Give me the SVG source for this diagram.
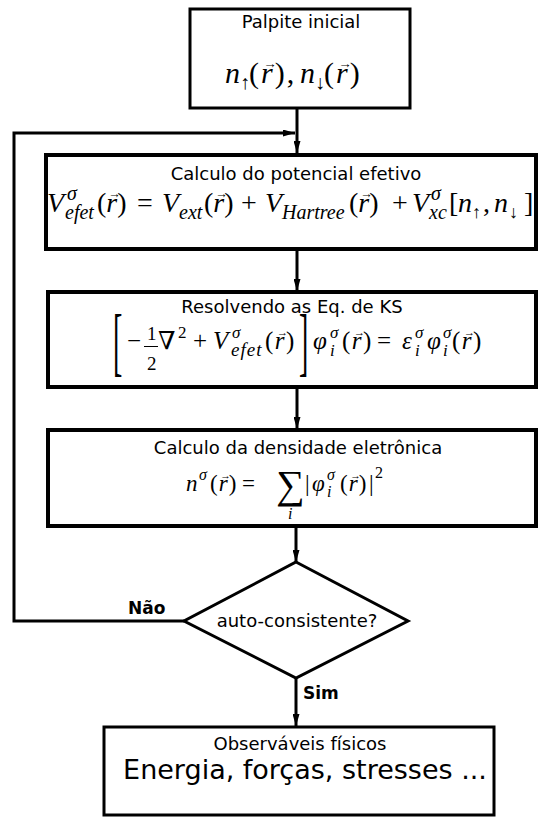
<svg xmlns="http://www.w3.org/2000/svg" width="538" height="825" viewBox="0 0 538 825">
<style>
.box{fill:#fff;stroke:#000}
.t{font-family:"DejaVu Sans",sans-serif;font-size:18px;fill:#000;text-anchor:middle}
.b{font-family:"DejaVu Sans",sans-serif;font-weight:bold;font-size:17px;fill:#000}
.mi{font-family:"Liberation Serif","DejaVu Serif",serif;font-style:italic;fill:#000}
.u{font-style:normal}
.v{font-style:normal;text-anchor:middle}
.c{fill:none;stroke:#000;stroke-width:3}
</style>
<defs>
<marker id="ah" viewBox="0 0 12 7" refX="12" refY="3.5" markerWidth="12" markerHeight="7" markerUnits="userSpaceOnUse" orient="auto">
<path d="M0,0 L12,3.5 L0,7 z" fill="#000"/>
</marker>
</defs>

<g id="connectors">
<line class="c" x1="297" y1="108" x2="297" y2="153" marker-end="url(#ah)"/>
<polyline class="c" points="184,621 14,621 14,133 295,133" marker-end="url(#ah)"/>
<line class="c" x1="297" y1="250" x2="297" y2="291" marker-end="url(#ah)"/>
<line class="c" x1="297" y1="387" x2="297" y2="429" marker-end="url(#ah)"/>
<line class="c" x1="296" y1="526" x2="296" y2="562" marker-end="url(#ah)"/>
<line class="c" x1="296" y1="678" x2="296" y2="726" marker-end="url(#ah)"/>
<text class="b" x="128" y="614">Não</text>
<text class="b" x="303" y="699">Sim</text>
</g>

<g id="palpite">
<rect class="box" x="190" y="9" width="220" height="99" stroke-width="3"/>
<text class="t" x="301" y="28">Palpite inicial</text>
<g class="mi">
<text x="225" y="83" font-size="30">n</text>
<text x="240" y="89" font-size="20" class="u">↑</text>
<text x="249" y="83" font-size="30" letter-spacing="2"><tspan class="u">(</tspan>r<tspan class="u">),</tspan></text>
<text x="300" y="83" font-size="30">n</text>
<text x="315" y="89" font-size="20" class="u">↓</text>
<text x="324" y="83" font-size="30" letter-spacing="2"><tspan class="u">(</tspan>r<tspan class="u">)</tspan></text>
<text class="v" x="270" y="68" font-size="13.5">→</text>
<text class="v" x="345" y="68" font-size="13.5">→</text>
</g>
</g>

<g id="potencial">
<rect class="box" x="46" y="155" width="490" height="94" stroke-width="4"/>
<text class="t" x="296" y="180">Calculo do potencial efetivo</text>
<g class="mi">
<text x="47" y="212" font-size="28">V</text>
<text x="67" y="200" font-size="20">σ</text>
<text x="65" y="219" font-size="20">efet</text>
<text x="97" y="212" font-size="28"><tspan class="u">(</tspan>r<tspan class="u">)</tspan></text>
<text x="137" y="212" font-size="28" class="u">=</text>
<text x="162" y="212" font-size="28">V</text>
<text x="179" y="219" font-size="20">ext</text>
<text x="204" y="212" font-size="28"><tspan class="u">(</tspan>r<tspan class="u">)</tspan></text>
<text x="241" y="212" font-size="28" class="u">+</text>
<text x="265" y="212" font-size="28">V</text>
<text x="282" y="219" font-size="20">Hartree</text>
<text x="349" y="212" font-size="28"><tspan class="u">(</tspan>r<tspan class="u">)</tspan></text>
<text x="392" y="212" font-size="28" class="u">+</text>
<text x="412" y="212" font-size="28">V</text>
<text x="431" y="200" font-size="20">σ</text>
<text x="429" y="219" font-size="20">xc</text>
<text x="449" y="212" font-size="28" class="u">[</text>
<text x="458" y="212" font-size="28">n</text>
<text x="472" y="218" font-size="18" class="u">↑</text>
<text x="483" y="212" font-size="28" class="u">,</text>
<text x="494" y="212" font-size="28">n</text>
<text x="509" y="218" font-size="18" class="u">↓</text>
<text x="524" y="212" font-size="28" class="u">]</text>
<text class="v" x="114.6" y="198" font-size="12.6">→</text>
<text class="v" x="221.6" y="198" font-size="12.6">→</text>
<text class="v" x="366.6" y="198" font-size="12.6">→</text>
</g>
</g>

<g id="resolvendo">
<rect class="box" x="48" y="292" width="488" height="95" stroke-width="4"/>
<text class="t" x="292" y="313">Resolvendo as Eq. de KS</text>
<g class="mi">
<text class="u" transform="translate(113,367.2) scale(1,2.7)" font-size="28">[</text>
<text class="u" x="127" y="349" font-size="25">−</text>
<text class="u" x="147" y="340" font-size="19">1</text>
<line x1="144" y1="346.5" x2="158" y2="346.5" stroke="#000" stroke-width="1"/>
<text class="u" x="147" y="370" font-size="19">2</text>
<text class="u" x="158" y="349" font-size="25">∇</text>
<text class="u" x="178" y="338" font-size="17">2</text>
<text class="u" x="193" y="349" font-size="25">+</text>
<text x="213" y="349" font-size="25">V</text>
<text x="232" y="338" font-size="17">σ</text>
<text x="231" y="356" font-size="19" letter-spacing="1">efet</text>
<text x="265" y="349" font-size="25" letter-spacing="1.5"><tspan class="u">(</tspan>r<tspan class="u">)</tspan></text>
<text class="u" transform="translate(299,367.2) scale(1,2.7)" font-size="28">]</text>
<text x="313" y="349" font-size="25">φ</text>
<text x="330" y="338" font-size="17">σ</text>
<text x="330" y="356" font-size="17">i</text>
<text x="342" y="349" font-size="25" letter-spacing="1.5"><tspan class="u">(</tspan>r<tspan class="u">)</tspan></text>
<text class="u" x="377" y="349" font-size="25">=</text>
<text x="402" y="349" font-size="25">ε</text>
<text x="415" y="338" font-size="17">σ</text>
<text x="415" y="356" font-size="17">i</text>
<text x="427" y="349" font-size="25">φ</text>
<text x="443" y="338" font-size="17">σ</text>
<text x="443" y="356" font-size="17">i</text>
<text x="452" y="349" font-size="25" letter-spacing="1.5"><tspan class="u">(</tspan>r<tspan class="u">)</tspan></text>
<text class="v" x="282.3" y="336" font-size="11.3">→</text>
<text class="v" x="359.3" y="336" font-size="11.3">→</text>
<text class="v" x="469.3" y="336" font-size="11.3">→</text>
</g>
</g>

<g id="densidade">
<rect class="box" x="48" y="430" width="488" height="96" stroke-width="4"/>
<text class="t" x="298" y="454">Calculo da densidade eletrônica</text>
<g class="mi">
<text x="186" y="491" font-size="23">n</text>
<text x="199" y="480" font-size="16">σ</text>
<text x="210" y="491" font-size="23" letter-spacing="1"><tspan class="u">(</tspan>r<tspan class="u">)</tspan></text>
<text class="u" x="242" y="491" font-size="23">=</text>
<text class="u" x="276" y="498" font-size="40">∑</text>
<text x="288" y="519" font-size="16">i</text>
<text class="u" x="305" y="491" font-size="23">|</text>
<text x="312" y="491" font-size="23">φ</text>
<text x="327" y="480" font-size="16">σ</text>
<text x="327" y="497" font-size="16">i</text>
<text x="340" y="491" font-size="23" letter-spacing="1"><tspan class="u">(</tspan>r<tspan class="u">)</tspan></text>
<text class="u" x="369" y="491" font-size="23">|</text>
<text class="u" x="375" y="478" font-size="16">2</text>
<text class="v" x="225.5" y="479.3" font-size="10.4">→</text>
<text class="v" x="355.5" y="479.3" font-size="10.4">→</text>
</g>
</g>

<g id="decisao">
<polygon class="box" points="296,562 408,621 296,678 184,621" stroke-width="3"/>
<text class="t" x="297" y="627">auto-consistente?</text>
</g>

<g id="observaveis">
<rect class="box" x="104" y="727" width="390" height="88" stroke-width="3"/>
<text class="t" x="300" y="750">Observáveis físicos</text>
<text class="t" x="305" y="779" style="font-size:27px">Energia, forças, stresses ...</text>
</g>
</svg>
